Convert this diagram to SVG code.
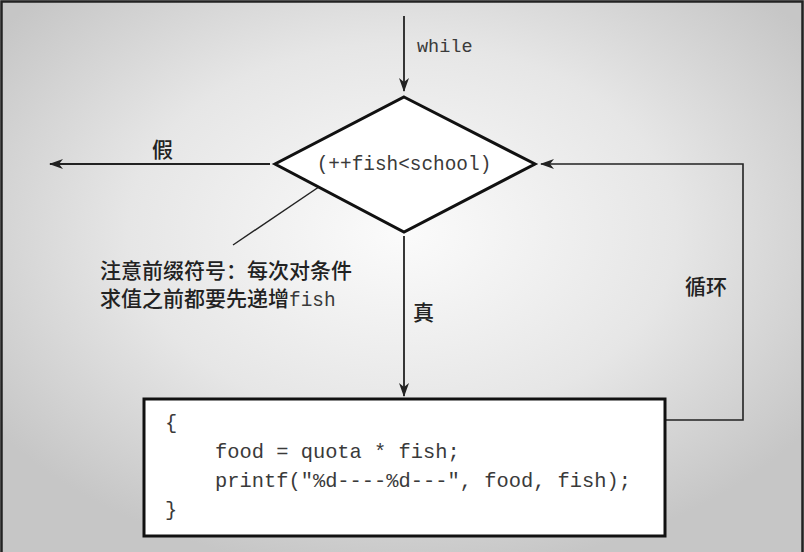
<svg xmlns="http://www.w3.org/2000/svg" width="804" height="552" viewBox="0 0 804 552">
<defs>
<radialGradient id="bg" cx="50%" cy="42%" r="62%">
<stop offset="0" stop-color="#fbfbfb"/>
<stop offset="0.55" stop-color="#e6e6e6"/>
<stop offset="1" stop-color="#c6c6c6"/>
</radialGradient>
<marker id="ah" viewBox="0 0 14 10" refX="13" refY="5" markerWidth="14" markerHeight="10" markerUnits="userSpaceOnUse" orient="auto">
<path d="M0,0 L14,5 L0,10 L4,5 Z" fill="#222"/>
</marker>
<style>
.mono{font-family:"Liberation Mono","DejaVu Sans Mono",monospace;fill:#3a3a3a}
.cjk{font-family:"Noto Sans CJK SC","Noto Sans CJK TC",serif;fill:#222;font-size:21px;font-weight:500}
.conn{stroke:#222;fill:none}
</style>
</defs>
<rect x="0" y="0" width="804" height="552" fill="url(#bg)"/>
<path d="M1.5,560 V1.5 H802.5 V560" fill="none" stroke="#222" stroke-width="2.5"/>

<g id="connectors">
<line class="conn" x1="404" y1="16" x2="404" y2="91" stroke-width="1.8" marker-end="url(#ah)"/>
<line class="conn" x1="270" y1="164" x2="50" y2="164" stroke-width="1.8" marker-end="url(#ah)"/>
<line class="conn" x1="404" y1="236" x2="404" y2="396" stroke-width="1.8" marker-end="url(#ah)"/>
<polyline class="conn" points="666,420 743,420 743,164 541,164" stroke-width="1.6" stroke="#333" marker-end="url(#ah)"/>
<line class="conn" x1="233" y1="245" x2="338" y2="174" stroke-width="1.4"/>
</g>

<g id="label-while"><text class="mono" x="417" y="52" font-size="18.5">while</text></g>
<g id="label-false"><text class="cjk" x="152" y="157">假</text></g>
<g id="label-true"><text class="cjk" x="413" y="320">真</text></g>
<g id="label-loop"><text class="cjk" x="685" y="294">循环</text></g>

<g id="condition">
<polygon points="404,97 535,164 404,232 275,164" fill="#fff" stroke="#111" stroke-width="3" stroke-linejoin="miter"/>
<text class="mono" x="404" y="170" font-size="19.4" text-anchor="middle">(++fish&lt;school)</text>
</g>

<g id="note">
<text class="cjk" x="100" y="278">注意前缀符号：每次对条件</text>
<text class="cjk" x="100" y="306">求值之前都要先递增<tspan class="mono" font-size="19.4" font-weight="400">fish</tspan></text>
</g>

<g id="body">
<rect x="144" y="399" width="521" height="137" fill="#fff" stroke="#111" stroke-width="3"/>
<text class="mono" font-size="20.4" x="165" y="429">{</text>
<text class="mono" font-size="20.4" x="215" y="458">food = quota * fish;</text>
<text class="mono" font-size="20.4" x="215" y="487">printf("%d----%d---", food, fish);</text>
<text class="mono" font-size="20.4" x="165" y="516">}</text>
</g>
</svg>
